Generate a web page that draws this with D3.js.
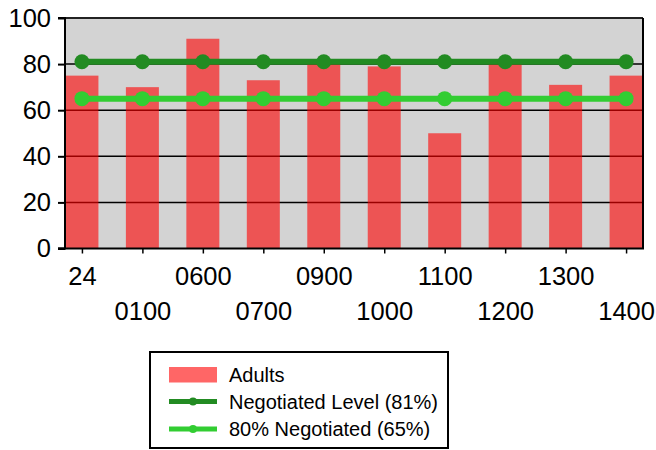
<!DOCTYPE html>
<html>
<head>
<meta charset="utf-8">
<script src="https://cdn.jsdelivr.net/npm/d3@7"></script>
<style>
  html, body { margin: 0; padding: 0; background: #fff; }
  svg { display: block; font-family: "Liberation Sans", Arial, sans-serif; }
</style>
</head>
<body>
<svg id="chart" width="656" height="450"></svg>
<script>
// ---- data ----
const categories = ["24", "0100", "0600", "0700", "0900", "1000", "1100", "1200", "1300", "1400"];
const adults = [75, 70, 91, 73, 80, 79, 50, 80, 71, 75];
const negotiatedLevel = [81, 81, 81, 81, 81, 81, 81, 81, 81, 81];
const negotiated80 = [65, 65, 65, 65, 65, 65, 65, 65, 65, 65];
const yTicks = [0, 20, 40, 60, 80, 100];
const seriesNames = ["Adults", "Negotiated Level (81%)", "80% Negotiated (65%)"];

// ---- layout ----
const svg = d3.select("#chart");
const L = 65, R = 643, T = 18, B = 248.5;
const x = d3.scalePoint().domain(categories).range([L, R]).padding(0.28);
const y = d3.scaleLinear().domain([0, 100]).range([B, T]);
const barW = 33;
const darkGreen = "#228B22", lightGreen = "#32CD32";
const axisFont = 25.5;

// plot background
svg.append("rect").attr("x", L).attr("y", T).attr("width", R - L).attr("height", B - T)
  .attr("fill", "#d3d3d3");

// gridlines
svg.append("g").selectAll("line").data(yTicks.filter(d => d > 0 && d < 100)).join("line")
  .attr("x1", L).attr("x2", R).attr("y1", d => y(d)).attr("y2", d => y(d))
  .attr("stroke", "#000").attr("stroke-width", 1.5);

// bars
svg.append("g").selectAll("rect").data(adults).join("rect")
  .attr("x", (d, i) => x(categories[i]) - barW / 2)
  .attr("width", barW)
  .attr("y", d => y(d))
  .attr("height", d => y(0) - y(d))
  .attr("fill", "red").attr("fill-opacity", 0.6);

// lines
function drawLine(vals, color) {
  const g = svg.append("g");
  const line = d3.line().x((d, i) => x(categories[i])).y(d => y(d));
  g.append("path").datum(vals).attr("d", line).attr("fill", "none")
    .attr("stroke", color).attr("stroke-width", 6);
  g.selectAll("circle").data(vals).join("circle")
    .attr("cx", (d, i) => x(categories[i])).attr("cy", d => y(d)).attr("r", 7.5)
    .attr("fill", color);
}
drawLine(negotiatedLevel, darkGreen);
drawLine(negotiated80, lightGreen);

// frame top/right
svg.append("line").attr("x1", L).attr("x2", R).attr("y1", T).attr("y2", T)
  .attr("stroke", "#222").attr("stroke-width", 2);
svg.append("line").attr("x1", R).attr("x2", R).attr("y1", T).attr("y2", B)
  .attr("stroke", "#000").attr("stroke-width", 2);

// y axis
const yAxis = svg.append("g").attr("transform", `translate(${L},0)`)
  .call(d3.axisLeft(y).tickValues(yTicks).tickSize(7).tickPadding(7).tickFormat(d3.format("d")));
yAxis.select(".domain").attr("stroke", "#000").attr("stroke-width", 2)
  .attr("d", `M-7,${T}H0V${B}H-7`);
yAxis.selectAll(".tick line").attr("stroke", "#000").attr("stroke-width", 2);
yAxis.selectAll("text").attr("font-size", axisFont).attr("fill", "#000")
  .attr("font-family", "Liberation Sans, Arial, sans-serif");

// x axis
const xAxis = svg.append("g").attr("transform", `translate(0,${B})`)
  .call(d3.axisBottom(x).tickSize(5).tickPadding(0));
xAxis.select(".domain").attr("stroke", "#000").attr("stroke-width", 2)
  .attr("d", `M${L - 7},0H${R + 1}`);
xAxis.selectAll(".tick line").attr("stroke", "#000").attr("stroke-width", 1.5);
xAxis.selectAll("text")
  .attr("font-size", axisFont).attr("fill", "#000")
  .attr("font-family", "Liberation Sans, Arial, sans-serif")
  .attr("dy", null)
  .attr("y", (d, i) => (i % 2 === 0 ? 285 : 320) - B);

// legend
const lg = svg.append("g");
lg.append("rect").attr("x", 150).attr("y", 352).attr("width", 298).attr("height", 96)
  .attr("fill", "#fff").attr("stroke", "#000").attr("stroke-width", 2);
const rowsY = [374.5, 401.5, 429];
lg.append("rect").attr("x", 169).attr("y", rowsY[0] - 7.5).attr("width", 48).attr("height", 15.5)
  .attr("fill", "red").attr("fill-opacity", 0.6);
[[darkGreen, rowsY[1]], [lightGreen, rowsY[2]]].forEach(([c, yy]) => {
  lg.append("line").attr("x1", 169).attr("x2", 217).attr("y1", yy).attr("y2", yy)
    .attr("stroke", c).attr("stroke-width", 5);
  lg.append("circle").attr("cx", 193).attr("cy", yy).attr("r", 4).attr("fill", c);
});
lg.selectAll("text").data(seriesNames).join("text")
  .attr("x", 229).attr("y", (d, i) => rowsY[i]).attr("dy", "0.35em")
  .attr("font-size", 20).attr("fill", "#000").text(d => d);
</script>
</body>
</html>
